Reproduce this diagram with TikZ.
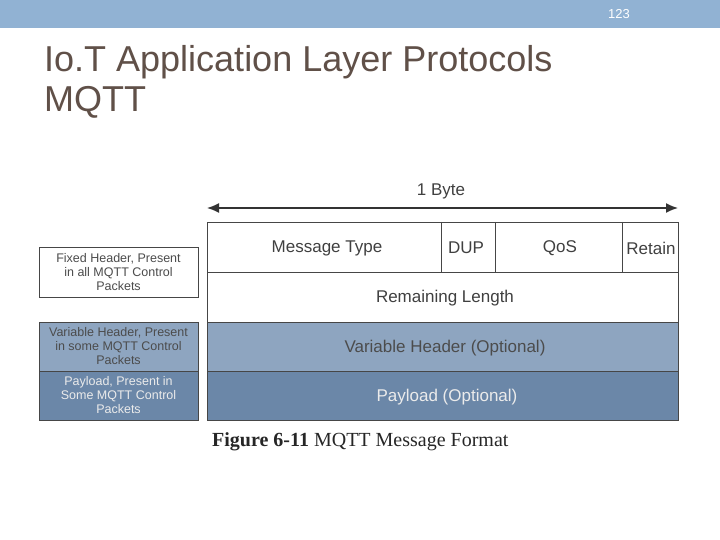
\documentclass[tikz,border=0pt]{standalone}
\usepackage{fontspec}
\usetikzlibrary{arrows.meta}
\setmainfont{Liberation Sans}
\newfontfamily\capfont{Liberation Serif}
\definecolor{barblue}{RGB}{145,178,211}
\definecolor{titlec}{RGB}{96,80,72}
\definecolor{varc}{RGB}{142,165,192}
\definecolor{payc}{RGB}{107,135,168}
\definecolor{linec}{RGB}{70,70,70}
\begin{document}
\begin{tikzpicture}[x=1pt,y=-1pt,
  cell/.style={draw=linec,line width=0.8pt,inner sep=0pt},
  lab/.style={font=\fontsize{17}{19}\selectfont,text=black!75},
  side/.style={draw=linec,line width=0.8pt,align=center,inner sep=0pt,font=\fontsize{12.5}{14}\selectfont,text=black!70}]
\useasboundingbox (0,0) rectangle (720,540);
\fill[barblue] (0,0) rectangle (720,28);
\node[text=white,font=\fontsize{13}{14}\selectfont] (pg) at (619,14) {123};
\node[anchor=west,text=titlec,font=\fontsize{36}{40}\selectfont,inner sep=0pt] (t1) at (44,62) {Io.T Application Layer Protocols};
\node[anchor=west,text=titlec,font=\fontsize{36}{40}\selectfont,inner sep=0pt] (t2) at (44,102) {MQTT};
% main rows
\draw[cell,fill=white] (207,222) rectangle (678,272);
\draw[cell,fill=white] (207,272) rectangle (678,322);
\draw[cell,fill=varc] (207,322) rectangle (678,371);
\draw[cell,fill=payc] (207,371) rectangle (678,420);
\draw[linec,line width=0.8pt] (441,222) -- (441,272) (495,222) -- (495,272) (622,222) -- (622,272);
\node[lab] (mt) at (327,248) {Message Type};
\node[lab] (dup) at (466,248) {DUP};
\node[lab] (qos) at (560,248) {QoS};
\node[lab] (ret) at (651,248) {Retain};
\node[lab] (rl) at (445,298) {Remaining Length};
\node[lab,text=black!70] (vh) at (445,348) {Variable Header (Optional)};
\node[lab,text=white!92!black] (pl) at (447,397) {Payload (Optional)};
% arrow
\coordinate (al) at (207,208); \coordinate (ar) at (678,208);
\draw[black!80,line width=1.5pt,{Latex[length=12pt,width=10pt]}-{Latex[length=12pt,width=10pt]}] (al) -- (ar);
\node[lab] (byte) at (441,191) {1 Byte};
% side boxes
\node[side,fill=white,minimum width=159pt,minimum height=50pt] (fh) at (118.5,272) {Fixed Header, Present\\in all MQTT Control\\Packets};
\node[side,fill=varc,minimum width=159pt,minimum height=49pt] (vs) at (118.5,346.5) {Variable Header, Present\\in some MQTT Control\\Packets};
\node[side,fill=payc,text=white!92!black,minimum width=159pt,minimum height=49pt] (ps) at (118.5,395.5) {Payload, Present in\\Some MQTT Control\\Packets};
\node[anchor=west,font=\capfont\fontsize{20}{22}\selectfont,text=black!85,inner sep=0pt] (cap) at (212,442) {\textbf{Figure 6-11} MQTT Message Format};
\end{tikzpicture}
\end{document}
